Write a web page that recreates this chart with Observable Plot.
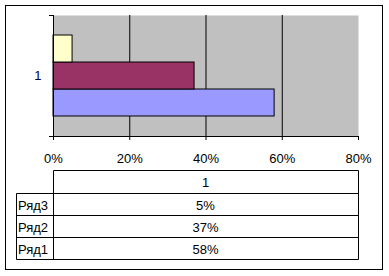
<!DOCTYPE html>
<html>
<head>
<meta charset="utf-8">
<script src="https://cdn.jsdelivr.net/npm/d3@7"></script>
<script src="https://cdn.jsdelivr.net/npm/@observablehq/plot@0.6"></script>
<style>
  html, body { margin: 0; padding: 0; background: #fff; }
  #wrap { position: relative; width: 389px; height: 276px; font-family: "Liberation Sans", Arial, sans-serif; font-size: 13px; color: #000; }
  #wrap svg.plot { position: absolute; left: 0; top: 0; }
  #border { position: absolute; left: 5px; top: 5px; width: 376px; height: 263px; border: 1px solid #000; }
  #table { position: absolute; left: 0; top: 0; }
</style>
</head>
<body>
<div id="wrap"><div id="border"></div></div>
<script>
const categories = ["1"];
const series = ["Ряд1", "Ряд2", "Ряд3"];
const values = [0.58, 0.37, 0.05];
const colors = ["#9999FF", "#993366", "#FFFFCC"];
const xTicks = [0, 0.2, 0.4, 0.6, 0.8];
const gridTicks = [0.2, 0.4, 0.6];

const data = series.map((s, i) => ({category: categories[0], series: s, value: values[i]}));
const pct = d3.format(".0%");

const leftTicks = (index, scales, values, dimensions) => {
  const g = d3.create("svg:g").attr("stroke", "#000");
  const x0 = dimensions.marginLeft;
  for (const y of [dimensions.marginTop, dimensions.height - dimensions.marginBottom]) {
    g.append("line").attr("x1", x0 - 4).attr("x2", x0).attr("y1", y + 0.5).attr("y2", y + 0.5);
  }
  return g.node();
};

const chart = Plot.plot({
  width: 389,
  height: 170,
  marginLeft: 53,
  marginRight: 31,
  marginTop: 15,
  marginBottom: 34,
  style: {fontFamily: "'Liberation Sans', Arial, sans-serif", fontSize: "13px", color: "#000", background: "transparent"},
  x: {domain: [0, 0.8]},
  fy: {domain: categories, padding: 0},
  y: {domain: series.slice().reverse(), paddingInner: 0, paddingOuter: 0.74, axis: null},
  color: {domain: series, range: colors},
  marks: [
    Plot.frame({fill: "#C0C0C0"}),
    Plot.gridX(gridTicks, {stroke: "#000", strokeOpacity: 1}),
    Plot.barX(data, {x: "value", y: "series", fy: "category", fill: "series", stroke: "#000"}),
    Plot.frame({anchor: "left", stroke: "#000"}),
    Plot.frame({anchor: "bottom", stroke: "#000"}),
    Plot.axisX({ticks: xTicks, tickSize: 4, tickPadding: 13, tickFormat: pct, label: null}),
    Plot.axisFy({anchor: "left", tickSize: 0, tickPadding: 12, label: null, fill: "#000040"}),
    leftTicks
  ]
});
chart.classList.add("plot");
document.getElementById("wrap").appendChild(chart);

// data table below the chart
const tx0 = 16, tx1 = 53, tx2 = 358;
const rowY = [170, 193, 215, 237, 259];
const rows = series.map((s, i) => ({label: s, value: values[i]})).reverse();
const svg = d3.select("#wrap").append("svg")
  .attr("id", "table").attr("width", 389).attr("height", 276)
  .style("font-family", "'Liberation Sans', Arial, sans-serif").style("font-size", "13px");
const L = (x1, y1, x2, y2) => svg.append("line")
  .attr("x1", x1 + 0.5).attr("y1", y1 + 0.5).attr("x2", x2 + 0.5).attr("y2", y2 + 0.5).attr("stroke", "#000");
L(tx1, rowY[0], tx2, rowY[0]);
L(tx0, rowY[1], tx2, rowY[1]);
rows.forEach((r, i) => L(tx0, rowY[i + 2], tx2, rowY[i + 2]));
L(tx0, rowY[1], tx0, rowY[4]);
L(tx1, rowY[0], tx1, rowY[4]);
L(tx2, rowY[0], tx2, rowY[4]);
svg.append("text").attr("x", (tx1 + tx2) / 2).attr("y", (rowY[0] + rowY[1]) / 2 + 1)
  .attr("text-anchor", "middle").attr("dominant-baseline", "central").text(categories[0]);
rows.forEach((r, i) => {
  const yc = (rowY[i + 1] + rowY[i + 2]) / 2 + 1;
  svg.append("text").attr("x", tx0 + 2).attr("y", yc).attr("dominant-baseline", "central").text(r.label);
  svg.append("text").attr("x", (tx1 + tx2) / 2).attr("y", yc).attr("text-anchor", "middle")
    .attr("dominant-baseline", "central").text(pct(r.value));
});
</script>
</body>
</html>
